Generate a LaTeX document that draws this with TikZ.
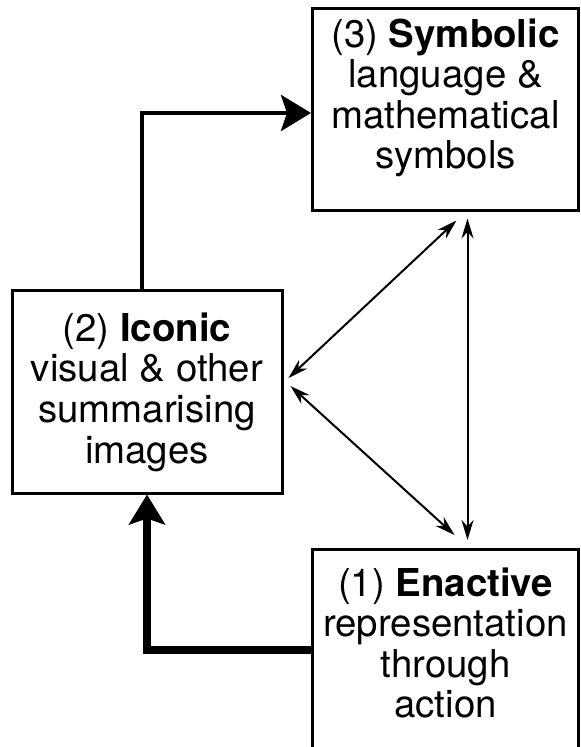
\documentclass[tikz,border=0pt]{standalone}
\usepackage{fontspec}
\setmainfont{TeX Gyre Heros}
\usetikzlibrary{arrows.meta,calc}

\begin{document}
\begin{tikzpicture}[x=0.5pt,y=-0.5pt,
  modebox/.style={draw,line width=1.5pt,minimum width=133pt,
    font=\fontsize{19.2}{20.3}\selectfont,align=center,inner xsep=0pt},
  bigflow/.style={line width=#1,-{Stealth[length=15pt,width=18pt,inset=3pt]}},
  link/.style={line width=1pt,{Stealth[length=10pt,width=6pt]}-{Stealth[length=10pt,width=6pt]}}
]
  \useasboundingbox (0,0) rectangle (581,747);

  % Symbolic
  \node[modebox,minimum height=101pt] (symbolic) at (445.5,110)
    {(3) \textbf{Symbolic}\\language \&\\mathematical\\symbols\\[-4pt]};
  % Iconic
  \node[modebox,minimum width=135pt,minimum height=101pt] (iconic) at (147,392)
    {(2) \textbf{Iconic}\\visual \& other\\summarising\\images};
  % Enactive (runs off the bottom)
  \node[modebox,anchor=north,inner ysep=9pt,text depth=30pt] (enactive) at (445.5,548)
    {(1) \textbf{Enactive}\\representation\\through\\action};

  % ends of the thin links
  \coordinate (s1) at ([shift={(11,8)}]symbolic.south);
  \coordinate (s2) at ([shift={(22,6)}]symbolic.south);
  \coordinate (i1) at ([shift={(5,-14)}]iconic.east);
  \coordinate (i2) at ([shift={(7,-6)}]iconic.east);
  \coordinate (e1) at ([shift={(9,-13)}]enactive.north);
  \coordinate (e2) at ([shift={(22,-8)}]enactive.north);

  % thick flows
  \draw[bigflow=2.3pt] ([shift={(-5,0)}]iconic.north) |- ([shift={(0,3)}]symbolic.west);
  \draw[bigflow=3.6pt] ([shift={(0,102)}]enactive.north west) -| (iconic.south);

  % thin links
  \draw[link] (i1) -- (s1);
  \draw[link] (i2) -- (e1);
  \draw[link] (s2) -- (e2);
\end{tikzpicture}
\end{document}
